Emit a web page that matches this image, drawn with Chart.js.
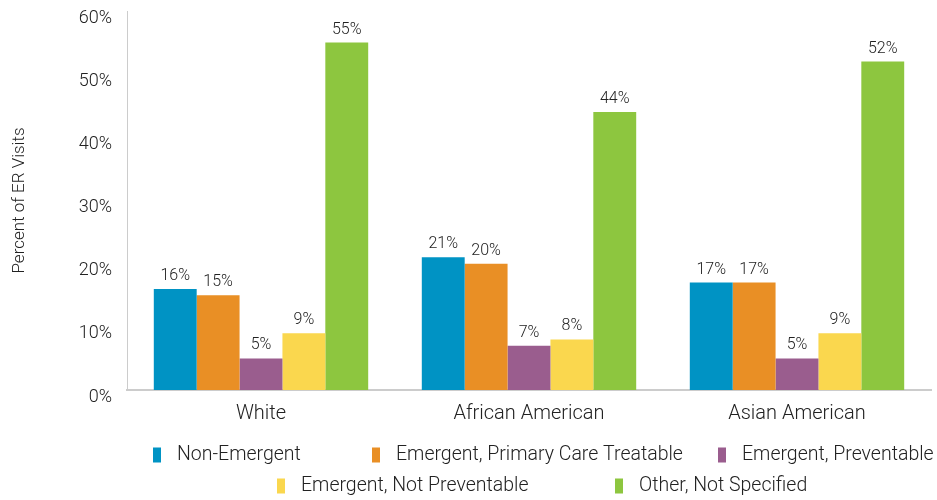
<!DOCTYPE html>
<html>
<head>
<meta charset="utf-8">
<script src="https://cdn.jsdelivr.net/npm/chart.js@4/dist/chart.umd.min.js"></script>
<style>
  html, body { margin: 0; padding: 0; background: #fff; }
  #wrap { width: 937px; height: 500px; }
</style>
</head>
<body>
<div id="wrap"><canvas id="myChart"></canvas></div>
<script>
var categories = ["White", "African American", "Asian American"];
var seriesNames = [
  "Non-Emergent",
  "Emergent, Primary Care Treatable",
  "Emergent, Preventable",
  "Emergent, Not Preventable",
  "Other, Not Specified"
];
var nonEmergent = [16, 21, 17];
var primaryCare = [15, 20, 17];
var preventable = [5, 7, 5];
var notPreventable = [9, 8, 9];
var otherNotSpecified = [55, 44, 52];
var yTicks = [0, 10, 20, 30, 40, 50, 60];

var colors = ["#0093c4", "#e98f25", "#9a5d8e", "#fad74e", "#8dc63f"];
var allSeries = [nonEmergent, primaryCare, preventable, notPreventable, otherNotSpecified];
var fontFamily = "Roboto, 'Liberation Sans', sans-serif";

// legend layout (two rows): left edge of each swatch and row centre
var legendX = [153, 372, 718, 277, 615];
var legendY = [455, 455, 455, 486, 486];

// draws the % value above each bar
var barLabels = {
  id: "barLabels",
  afterDatasetsDraw: function (chart) {
    var ctx = chart.ctx;
    ctx.save();
    ctx.font = "300 16px " + fontFamily;
    ctx.fillStyle = "#222";
    ctx.textAlign = "center";
    ctx.textBaseline = "bottom";
    chart.data.datasets.forEach(function (ds, i) {
      chart.getDatasetMeta(i).data.forEach(function (bar, j) {
        ctx.fillText(ds.data[j] + "%", bar.x, bar.y - 5);
      });
    });
    ctx.restore();
  }
};

// legend in two rows with wide gaps, like the original
var rowLegend = {
  id: "rowLegend",
  afterDraw: function (chart) {
    var ctx = chart.ctx;
    ctx.save();
    ctx.font = "300 19.5px " + fontFamily;
    ctx.textBaseline = "middle";
    ctx.textAlign = "left";
    chart.data.datasets.forEach(function (ds, i) {
      var x = legendX[i], y = legendY[i];
      ctx.fillStyle = ds.backgroundColor;
      ctx.fillRect(x, y - 7.5, 8, 15);
      ctx.fillStyle = "#222";
      ctx.fillText(ds.label, x + 24, y);
    });
    ctx.restore();
  }
};

var ctx = document.getElementById("myChart");
var myChart = new Chart(ctx, {
  type: "bar",
  data: {
    labels: categories,
    datasets: seriesNames.map(function (name, i) {
      return {
        label: name,
        data: allSeries[i],
        backgroundColor: colors[i],
        borderWidth: 0,
        categoryPercentage: 0.8,
        barPercentage: 1.0
      };
    })
  },
  plugins: [barLabels, rowLegend],
  options: {
    responsive: true,
    maintainAspectRatio: false,
    animation: false,
    layout: {
      padding: { top: 11, right: 6, bottom: 68, left: 0 }
    },
    plugins: {
      tooltip: { enabled: false },
      legend: { display: false }
    },
    scales: {
      x: {
        afterFit: function (scale) { scale.height = 42; },
        grid: { display: false, drawTicks: false },
        border: { display: true, color: "#cccccc", width: 2 },
        ticks: {
          color: "#222",
          padding: 12,
          font: { family: fontFamily, size: 20, weight: "300" }
        }
      },
      y: {
        min: 0,
        max: 60,
        afterFit: function (scale) {
          scale.width = 127;
          scale.paddingTop = 0;
          scale.paddingBottom = 0;
        },
        afterBuildTicks: function (scale) {
          scale.ticks = yTicks.map(function (v) { return { value: v }; });
        },
        grid: { display: false, drawTicks: false },
        border: { display: true, color: "#cccccc", width: 1 },
        ticks: {
          color: "#222",
          padding: 15,
          labelOffset: 7,
          font: { family: fontFamily, size: 18, weight: "300" },
          callback: function (v) { return v + "%"; }
        },
        title: {
          display: true,
          text: "Percent of ER Visits",
          color: "#222",
          padding: { top: 10, bottom: 0 },
          font: { family: fontFamily, size: 17, weight: "300" }
        }
      }
    }
  }
});
</script>
</body>
</html>
